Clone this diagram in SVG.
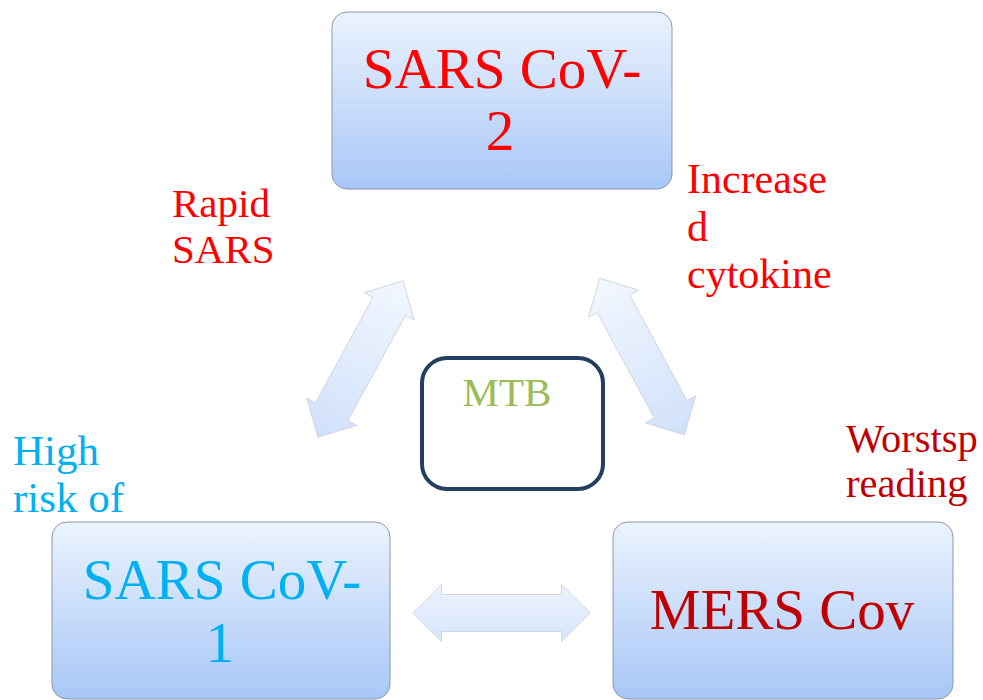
<svg xmlns="http://www.w3.org/2000/svg" width="983" height="700" viewBox="0 0 983 700">
  <defs>
    <linearGradient id="boxFill" x1="0" y1="0" x2="0" y2="1">
      <stop offset="0" stop-color="#ebf3fe"/>
      <stop offset="1" stop-color="#a8c7f7"/>
    </linearGradient>
    <!-- arrow fills run along the arrow's own x axis -->
    <linearGradient id="arrowUpRight" x1="0" y1="0" x2="1" y2="0">
      <stop offset="0" stop-color="#d0e1fb"/>
      <stop offset="1" stop-color="#f3f7fe"/>
    </linearGradient>
    <linearGradient id="arrowDownRight" x1="0" y1="0" x2="1" y2="0">
      <stop offset="0" stop-color="#f3f7fe"/>
      <stop offset="1" stop-color="#d0e1fb"/>
    </linearGradient>
    <linearGradient id="arrowFlat" x1="0" y1="0" x2="0" y2="1">
      <stop offset="0" stop-color="#edf3fe"/>
      <stop offset="1" stop-color="#d6e5fb"/>
    </linearGradient>
    <path id="dblArrow" d="M -89 0 L -60 -28.5 L -60 -18.5 L 60 -18.5 L 60 -28.5 L 89 0 L 60 28.5 L 60 18.5 L -60 18.5 L -60 28.5 Z"/>
  </defs>
  <style>
    .box { fill: url(#boxFill); stroke: #8e98a6; stroke-width: 1; }
    .serif { font-family: "Liberation Serif", "Times New Roman", serif; }
    .big { font-size: 57px; text-anchor: middle; }
    .arrow { stroke: #c3ccd8; stroke-width: 0.7; }
  </style>

  <rect width="983" height="700" fill="#ffffff"/>

  <!-- connectors: double-headed block arrows -->
  <g id="connectors">
    <use href="#dblArrow" class="arrow" fill="url(#arrowUpRight)" transform="translate(360.5 359) rotate(-61.4)"/>
    <use href="#dblArrow" class="arrow" fill="url(#arrowDownRight)" transform="translate(642 356.5) rotate(61.6)"/>
    <use href="#dblArrow" class="arrow" fill="url(#arrowFlat)" transform="translate(501.5 613)"/>
  </g>

  <g id="sars-cov-2">
    <rect class="box" x="332" y="12" width="340" height="177" rx="15"/>
    <text class="serif big" fill="#ff0000" x="502" y="88">SARS CoV-</text>
    <text class="serif big" fill="#ff0000" x="500" y="150">2</text>
  </g>

  <g id="sars-cov-1">
    <rect class="box" x="52" y="522" width="338" height="177" rx="15"/>
    <text class="serif big" fill="#00b0f0" x="222" y="599">SARS CoV-</text>
    <text class="serif big" fill="#00b0f0" x="220" y="662">1</text>
  </g>

  <g id="mers-cov">
    <rect class="box" x="613" y="522" width="340" height="177" rx="15"/>
    <text class="serif big" fill="#c00000" x="782" y="629">MERS Cov</text>
  </g>

  <g id="mtb">
    <rect x="422" y="358" width="181" height="131" rx="25" fill="#ffffff" stroke="#243f60" stroke-width="4"/>
    <text class="serif" font-size="41" fill="#9bbb59" x="507" y="406" text-anchor="middle">MTB</text>
  </g>

  <g id="label-rapid" class="serif" font-size="41" fill="#ff0000">
    <text x="172" y="217">Rapid</text>
    <text x="172" y="263">SARS</text>
  </g>

  <g id="label-cytokine" class="serif" font-size="42" fill="#ff0000">
    <text x="687" y="193">Increase</text>
    <text x="687" y="241">d</text>
    <text x="687" y="288">cytokine</text>
  </g>

  <g id="label-risk" class="serif" font-size="43" fill="#00b0f0">
    <text x="13" y="465">High</text>
    <text x="13" y="512">risk of</text>
  </g>

  <g id="label-spreading" class="serif" font-size="40.5" fill="#c00000">
    <text x="846" y="452">Worstsp</text>
    <text x="846" y="497">reading</text>
  </g>
</svg>
